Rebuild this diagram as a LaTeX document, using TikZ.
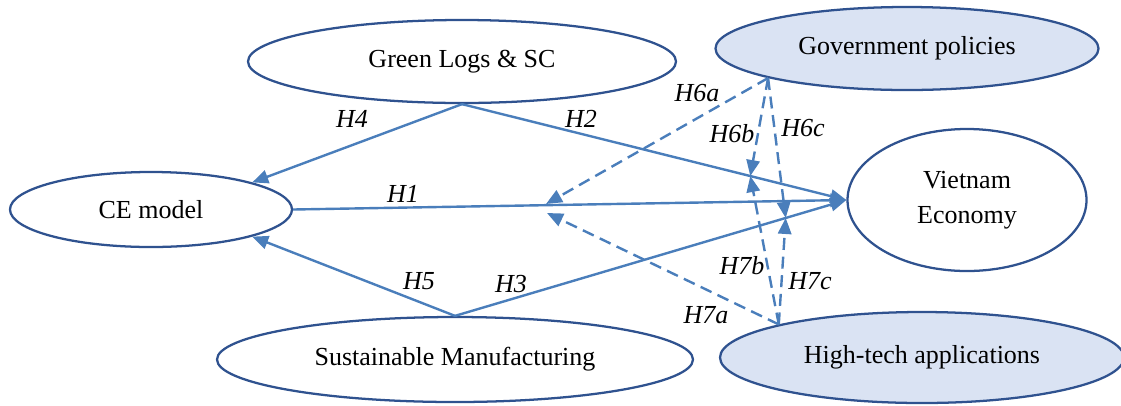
\documentclass[tikz,border=0pt]{standalone}
\usepackage{fontspec}
\setmainfont{Liberation Serif}
\usetikzlibrary{shapes.geometric,arrows.meta,calc}
\definecolor{lineblue}{RGB}{74,126,187}
\definecolor{edgeblue}{RGB}{47,82,143}
\definecolor{fillblue}{RGB}{218,227,243}
\begin{document}
\begin{tikzpicture}[x=0.75pt,y=-0.75pt,
  ell/.style={ellipse, draw=edgeblue, line width=1.7pt, inner sep=0pt,
    font=\fontsize{19.5}{26}\selectfont, align=center},
  link/.style={draw=lineblue, line width=1.8pt, -{Triangle[length=12pt,width=10pt]}},
  dlink/.style={link, dash pattern=on 9pt off 5pt},
  lab/.style={font=\fontsize{19.5}{22}\selectfont\itshape, inner sep=0pt}]
\useasboundingbox (0,0) rectangle (1121,405);

\node[ell, minimum width=321pt, minimum height=62.25pt] (gl) at (462,61.5) {Green Logs \& SC};
\node[ell, fill=fillblue, minimum width=287.25pt, minimum height=62.25pt] (gov) at (907,48.5) {Government policies};
\node[ell, minimum width=179.25pt, minimum height=106.5pt] (ve) at (967,200) {Vietnam\\Economy};
\node[ell, fill=fillblue, minimum width=303pt, minimum height=68.25pt] (ht) at (922,357.5) {High-tech applications};
\node[ell, minimum width=211.5pt, minimum height=56.25pt] (ce) at (151,209.5) {CE model};
\node[ell, minimum width=357pt, minimum height=63.75pt] (sm) at (455,359.5) {Sustainable Manufacturing};

\coordinate (gp) at (gov.192.5);
\coordinate (hp) at (ht.167);
\coordinate (m1) at (546,204);
\coordinate (m4) at (547,213);
\coordinate (m2) at ($(gl.south)!0.75!(ve.west)$);
\coordinate (m3) at ($(sm.north)!0.845!(ve.west)$);

\draw[link] (gl.south) -- (ce.15);
\draw[link] (gl.south) -- (ve.west);
\draw[link] (ce.east) -- (ve.west);
\draw[link] (sm.north) -- (ce.-15);
\draw[link] (sm.north) -- (ve.west);

\draw[dlink] (gp) -- (m1);
\draw[dlink] (gp) -- (m2);
\draw[dlink] (gp) -- (m3);
\draw[dlink] (hp) -- (m4);
\draw[dlink] (hp) -- (m2);
\draw[dlink] (hp) -- (m3);

\node[lab] (l4) at (352,119) {H4};
\node[lab] (l2) at (581,119) {H2};
\node[lab] (l1) at (403,193.5) {H1};
\node[lab] (l5) at (419,281) {H5};
\node[lab] (l3) at (511,284) {H3};
\node[lab] (l6a) at (697,93) {H6a};
\node[lab] (l6b) at (732,134) {H6b};
\node[lab] (l6c) at (803,128) {H6c};
\node[lab] (l7a) at (706,315) {H7a};
\node[lab] (l7b) at (742,266) {H7b};
\node[lab] (l7c) at (810,281.5) {H7c};
\end{tikzpicture}
\end{document}
